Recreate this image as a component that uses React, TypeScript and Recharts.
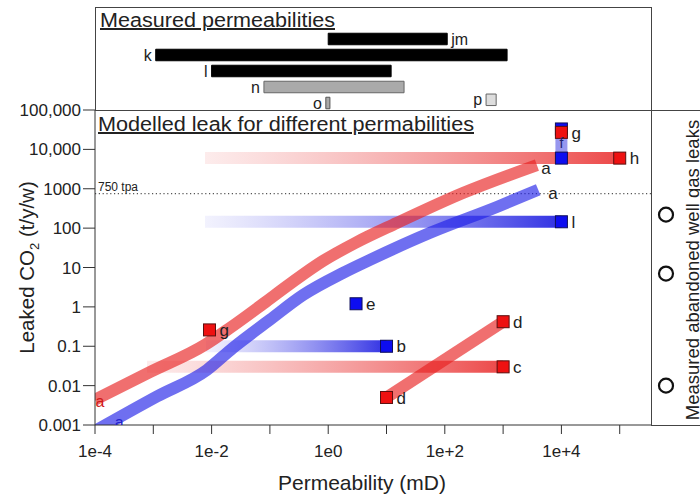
import React from 'react';
import {
  ComposedChart,
  Line,
  Scatter,
  XAxis,
  YAxis,
  ReferenceArea,
  ReferenceLine,
} from 'recharts';

const FONT = '"Liberation Sans", Arial, sans-serif';

// axes
const X_DOMAIN = [1e-4, 3.44e5];
const Y_DOMAIN = [0.001, 100000];
const X_TICKS = [1e-4, 1e-3, 1e-2, 1e-1, 1, 10, 100, 1000, 1e4, 1e5];
const X_TICK_LABELS = ['1e-4', '', '1e-2', '', '1e0', '', '1e+2', '', '1e+4', ''];
const Y_TICKS = [0.001, 0.01, 0.1, 1, 10, 100, 1000, 10000, 100000];
const Y_TICK_LABELS = ['0.001', '0.01', '0.1', '1', '10', '100', '1000', '10,000', '100,000'];

// modelled leak curves "a" (permeability mD -> leak t/y/w)
const RED_K = [1e-4, 8.7e-4, 0.0078, 0.0207, 0.0762, 0.221, 0.815, 2.9, 15, 204, 3800];
const RED_Q = [0.0044, 0.022, 0.11, 0.293, 1.19, 3.84, 14.7, 42, 135, 780, 4000];
const BLUE_K = [1e-4, 1.15e-3, 0.0083, 0.023, 0.1, 0.37, 1.8, 5.2, 56, 800, 4000];
const BLUE_Q = [0.00071, 0.0053, 0.025, 0.09, 0.47, 2.0, 7.3, 15.6, 76, 350, 940];

// gradient ranges (from, to, leak)
const RED_BARS = [
  { from: 0.0077, to: 1e5, q: 6000 },
  { from: 7.8e-4, to: 1000, q: 0.03 },
];
const BLUE_BARS = [
  { from: 0.0077, to: 1e4, q: 145 },
  { from: 0.008, to: 10, q: 0.1 },
];

// "d" range and "f" range
const D_RANGE = [
  { k: 10, q: 0.005 },
  { k: 1000, q: 0.42 },
];
const F_RANGE = [
  { k: 1e4, q: 6000 },
  { k: 1e4, q: 33000 },
];

// single modelled results
const RED_SQUARES = [
  { k: 0.0092, q: 0.26, label: 'g' },
  { k: 1000, q: 0.03, label: 'c' },
  { k: 10, q: 0.005, label: 'd' },
  { k: 1000, q: 0.42, label: 'd' },
  { k: 1e4, q: 27000, label: 'g' },
  { k: 1e5, q: 6000, label: 'h' },
];
const BLUE_SQUARES = [
  { k: 3, q: 1.2, label: 'e' },
  { k: 10, q: 0.1, label: 'b' },
  { k: 1e4, q: 145, label: 'l' },
  { k: 1e4, q: 33000, label: '' },
  { k: 1e4, q: 6000, label: '' },
];

// small text annotations
const NOTES = [
  { k: 1.22e-4, q: 0.0039, text: 'a', color: '#d01818', size: 16 },
  { k: 2.6e-4, q: 0.0012, text: 'a', color: '#2222cc', size: 16 },
  { k: 5450, q: 3400, text: 'a', color: '#222', size: 17 },
  { k: 7180, q: 775, text: 'a', color: '#222', size: 17 },
  { k: 1e4, q: 14500, text: 'f', color: '#22226a', size: 14 },
];

// measured permeabilities (top panel)
const PERM_NAMES = ['jm', 'k', 'l', 'n', 'o', 'p'];
const PERM_LO = [1.0, 0.0011, 0.01, 0.079, 0.91, 510];
const PERM_HI = [110, 1170, 12, 20, 1.07, 760];
const PERM_ROW = [1, 2, 3, 4, 5, 4.8];

// measured abandoned well leaks
const WELL_LEAKS = [220, 7, 0.01];

const BAND = Math.pow(10, 6 / 39.4);
const PERM_FILL = ['#000', '#000', '#000', '#aaa', '#aaa', '#ddd'];
const PERM_STROKE = ['#000', '#000', '#000', '#666', '#555', '#666'];
const PERM_SIDE = ['right', 'left', 'left', 'left', 'left', 'left'];

const redCurve = RED_K.map((k, i) => ({ k, q: RED_Q[i] }));
const blueCurve = BLUE_K.map((k, i) => ({ k, q: BLUE_Q[i] }));

const xLabel = (v: number) => {
  const i = X_TICKS.findIndex((t) => Math.abs(Math.log10(t) - Math.log10(v)) < 0.01);
  return i >= 0 ? X_TICK_LABELS[i] : '';
};
const yLabel = (v: number) => {
  const i = Y_TICKS.findIndex((t) => Math.abs(Math.log10(t) - Math.log10(v)) < 0.01);
  return i >= 0 ? Y_TICK_LABELS[i] : '';
};

const squareShape = (fill: string, stroke: string) => (props: any) => {
  const { cx, cy, payload } = props;
  return (
    <g>
      <rect x={cx - 6} y={cy - 6} width={12} height={12} fill={fill} stroke={stroke} strokeWidth={1} />
      {payload.label ? (
        <text x={cx + 10} y={cy} dy="0.36em" fontSize={17} fill="#222" fontFamily={FONT}>
          {payload.label}
        </text>
      ) : null}
    </g>
  );
};

const noteShape = (props: any) => {
  const { cx, cy, payload } = props;
  return (
    <text x={cx} y={cy} dy="0.36em" textAnchor="middle" fontSize={payload.size} fill={payload.color} fontFamily={FONT}>
      {payload.text}
    </text>
  );
};

const circleShape = (props: any) => (
  <circle cx={props.cx} cy={props.cy} r={7} fill="#fff" stroke="#111" strokeWidth={2.2} />
);

const tickStyle = { fontSize: 17, fill: '#222', fontFamily: FONT };

function TopPanel() {
  return (
    <ComposedChart width={700} height={125} margin={{ top: 7, right: 49, bottom: 15, left: 95 }}>
      <XAxis type="number" dataKey="k" scale="log" domain={X_DOMAIN} allowDataOverflow hide />
      <YAxis type="number" domain={[-1, 5.4375]} reversed allowDataOverflow hide />
      {PERM_NAMES.map((name, i) => (
        <ReferenceArea
          key={name}
          x1={PERM_LO[i]}
          x2={PERM_HI[i]}
          y1={PERM_ROW[i] - 0.36}
          y2={PERM_ROW[i] + 0.36}
          fill={PERM_FILL[i]}
          fillOpacity={1}
          stroke={PERM_STROKE[i]}
          strokeWidth={1}
          ifOverflow="visible"
          label={{ value: name, position: PERM_SIDE[i] as any, offset: 4, fill: '#222', fontSize: 16, fontFamily: FONT }}
        />
      ))}
    </ComposedChart>
  );
}

function MainPanel() {
  return (
    <ComposedChart width={700} height={495} margin={{ top: 110, right: 49, bottom: 0, left: 0 }}>
      <defs>
        <linearGradient id="redGrad" x1="0" y1="0" x2="1" y2="0">
          <stop offset="0" stopColor="#f08080" stopOpacity={0.15} />
          <stop offset="1" stopColor="#e82020" stopOpacity={0.82} />
        </linearGradient>
        <linearGradient id="blueGrad" x1="0" y1="0" x2="1" y2="0">
          <stop offset="0" stopColor="#8080f0" stopOpacity={0.1} />
          <stop offset="1" stopColor="#1a1ae0" stopOpacity={0.9} />
        </linearGradient>
      </defs>
      <XAxis
        type="number"
        dataKey="k"
        scale="log"
        domain={X_DOMAIN}
        allowDataOverflow
        ticks={X_TICKS}
        interval={0}
        tickFormatter={xLabel}
        height={70}
        tickSize={9}
        tickMargin={11}
        tick={tickStyle}
        stroke="#333"
        label={{
          content: (p: any) => {
            const vb = p.viewBox || { x: 95, y: 425, width: 556 };
            return (
              <text x={vb.x + vb.width / 2 - 11} y={vb.y + 65} textAnchor="middle" fontSize={21} fill="#222" fontFamily={FONT}>
                Permeability (mD)
              </text>
            );
          },
        }}
      />
      <YAxis
        type="number"
        dataKey="q"
        scale="log"
        domain={Y_DOMAIN}
        allowDataOverflow
        ticks={Y_TICKS}
        interval={0}
        tickFormatter={yLabel}
        width={95}
        tickSize={12}
        tickMargin={2}
        tick={tickStyle}
        stroke="#333"
        label={{
          content: (p: any) => {
            const vb = p.viewBox || { x: 0, y: 110, width: 95, height: 315 };
            const cy = vb.y + vb.height / 2;
            return (
              <text transform={`translate(34, ${cy}) rotate(-90)`} textAnchor="middle" fontSize={20.5} fill="#222" fontFamily={FONT}>
                Leaked CO
                <tspan fontSize={13} dy={5}>2</tspan>
                <tspan dy={-5}> (t/y/w)</tspan>
              </text>
            );
          },
        }}
      />
      <ReferenceLine
        y={750}
        stroke="#555"
        strokeWidth={1.2}
        strokeDasharray="1.2 2.6"
        label={{ value: '750 tpa', position: 'insideBottomLeft', offset: 3, fontSize: 12, fill: '#222', fontFamily: FONT }}
      />
      {RED_BARS.map((b, i) => (
        <ReferenceArea key={`rb${i}`} x1={b.from} x2={b.to} y1={b.q / BAND} y2={b.q * BAND} fill="url(#redGrad)" fillOpacity={1} stroke="none" />
      ))}
      {BLUE_BARS.map((b, i) => (
        <ReferenceArea key={`bb${i}`} x1={b.from} x2={b.to} y1={b.q / BAND} y2={b.q * BAND} fill="url(#blueGrad)" fillOpacity={1} stroke="none" />
      ))}
      <Line data={F_RANGE} dataKey="q" stroke="#3030e0" strokeOpacity={0.5} strokeWidth={12} dot={false} isAnimationActive={false} />
      <Line data={redCurve} dataKey="q" type="monotone" stroke="#e81e1e" strokeOpacity={0.64} strokeWidth={12} dot={false} isAnimationActive={false} />
      <Line data={blueCurve} dataKey="q" type="monotone" stroke="#1e1ee8" strokeOpacity={0.64} strokeWidth={12} dot={false} isAnimationActive={false} />
      <Line data={D_RANGE} dataKey="q" stroke="#e81e1e" strokeOpacity={0.64} strokeWidth={12} dot={false} isAnimationActive={false} />
      <Scatter data={BLUE_SQUARES} shape={squareShape('#0d0df0', '#10105a')} isAnimationActive={false} />
      <Scatter data={RED_SQUARES} shape={squareShape('#ee1111', '#5a1010')} isAnimationActive={false} />
      <Scatter data={NOTES} shape={noteShape} isAnimationActive={false} />
    </ComposedChart>
  );
}

function SidePanel() {
  const data = WELL_LEAKS.map((q) => ({ w: 0.5, q }));
  return (
    <ComposedChart width={49} height={495} margin={{ top: 110, right: 19, bottom: 70, left: 0 }}>
      <XAxis type="number" dataKey="w" domain={[0, 1]} hide />
      <YAxis type="number" dataKey="q" scale="log" domain={Y_DOMAIN} allowDataOverflow hide />
      <Scatter data={data} shape={circleShape} isAnimationActive={false} />
    </ComposedChart>
  );
}

export default function App() {
  return (
    <div style={{ position: 'absolute', left: 0, top: 0, width: 700, height: 495, background: '#fff', fontFamily: FONT, overflow: 'hidden' }}>
      <div style={{ position: 'absolute', left: 0, top: 0 }}>
        <MainPanel />
      </div>
      <div style={{ position: 'absolute', left: 0, top: 0 }}>
        <TopPanel />
      </div>
      <div style={{ position: 'absolute', left: 651, top: 0 }}>
        <SidePanel />
      </div>
      <svg width={700} height={495} style={{ position: 'absolute', left: 0, top: 0, pointerEvents: 'none' }}>
        <rect x={95.5} y={7.5} width={556} height={103} fill="none" stroke="#444" />
        <line x1={95} y1={110.5} x2={700} y2={110.5} stroke="#444" />
        <line x1={651.5} y1={110} x2={651.5} y2={425} stroke="#444" />
        <line x1={651} y1={425.5} x2={700} y2={425.5} stroke="#444" />
        <text x={100} y={27} fontSize={20} textLength={235} lengthAdjust="spacingAndGlyphs" fill="#222" fontFamily={FONT} style={{ textDecoration: 'underline' }}>
          Measured permeabilities
        </text>
        <text x={98} y={131} fontSize={20} textLength={376} lengthAdjust="spacingAndGlyphs" fill="#222" fontFamily={FONT} style={{ textDecoration: 'underline' }}>
          Modelled leak for different permabilities
        </text>
        <text transform="translate(699, 270) rotate(-90)" textAnchor="middle" fontSize={18.5} fill="#222" fontFamily={FONT}>
          Measured abandoned well gas leaks
        </text>
      </svg>
    </div>
  );
}
